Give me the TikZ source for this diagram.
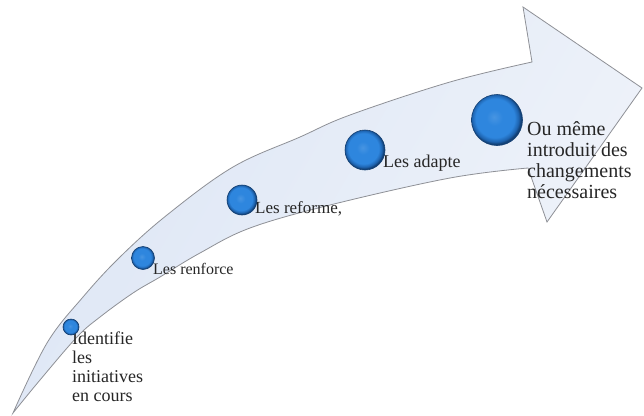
\documentclass[tikz,border=0pt]{standalone}
\usepackage{fontspec}
\setmainfont{Liberation Serif}
\definecolor{arrowfillA}{HTML}{DDE6F5}
\definecolor{arrowfillB}{HTML}{EFF3FA}
\definecolor{arrowline}{HTML}{8E9096}
\definecolor{ballin}{HTML}{2E86DE}
\definecolor{ballout}{HTML}{1D62AE}
\definecolor{balledge}{HTML}{123F73}
\definecolor{txt}{HTML}{262626}
\pgfdeclareradialshading{glossball}{\pgfpoint{-3bp}{3bp}}{color(0bp)=(ballin!88!white); color(8bp)=(ballin); color(19bp)=(ballin); color(23bp)=(ballout); color(25bp)=(balledge); color(50bp)=(balledge)}
\tikzset{
  arrowbody/.style={draw=arrowline, line width=0.8pt, left color=arrowfillA, right color=arrowfillB, shading angle=60},
  ballnode/.style={circle, inner sep=0pt, minimum size=#1, shading=glossball, draw=balledge, line width=0.6pt},
  lbl/.style={text=txt, inner sep=0pt, anchor=base west, align=left}
}
\begin{document}
\begin{tikzpicture}[x=1pt,y=-1pt]
\useasboundingbox (0,0) rectangle (644,415);
% arrow
\path[arrowbody] (13,413) -- plot[smooth,tension=0.6] coordinates {(13,413) (47,343) (83,297) (120,257) (167,215) (233,167) (300,137) (350,115) (450,82) (532,62)}
  -- (523,7) -- (642,88) -- (547,222) -- (528,168)
  -- plot[smooth,tension=0.6] coordinates {(528,168) (450,178) (330,205) (250,228) (200,253) (160,277) (133,293) (100,317) (77,337) (40,380) (13,413)} -- cycle;
% texts (base anchor of multi-line nodes is the last line)
\node[lbl, font=\fontsize{18}{19}\selectfont] (t1) at (72,401) {Identifie\\les\\initiatives\\en cours};
\node[lbl, font=\fontsize{16}{19}\selectfont] (t2) at (153,274) {Les renforce};
\node[lbl, font=\fontsize{17}{19}\selectfont] (t3) at (255,213) {Les reforme,};
\node[lbl, font=\fontsize{18}{19}\selectfont] (t4) at (383,167) {Les adapte};
\node[lbl, font=\fontsize{20}{21}\selectfont] (t5) at (527,198) {Ou même\\introduit des\\changements\\nécessaires};
% balls
\node[ballnode=16pt] (b1) at (71,327) {};
\node[ballnode=23pt] (b2) at (143,258) {};
\node[ballnode=30pt] (b3) at (242,200) {};
\node[ballnode=40pt] (b4) at (365,150) {};
\node[ballnode=51pt] (b5) at (497,120) {};
\end{tikzpicture}
\end{document}
